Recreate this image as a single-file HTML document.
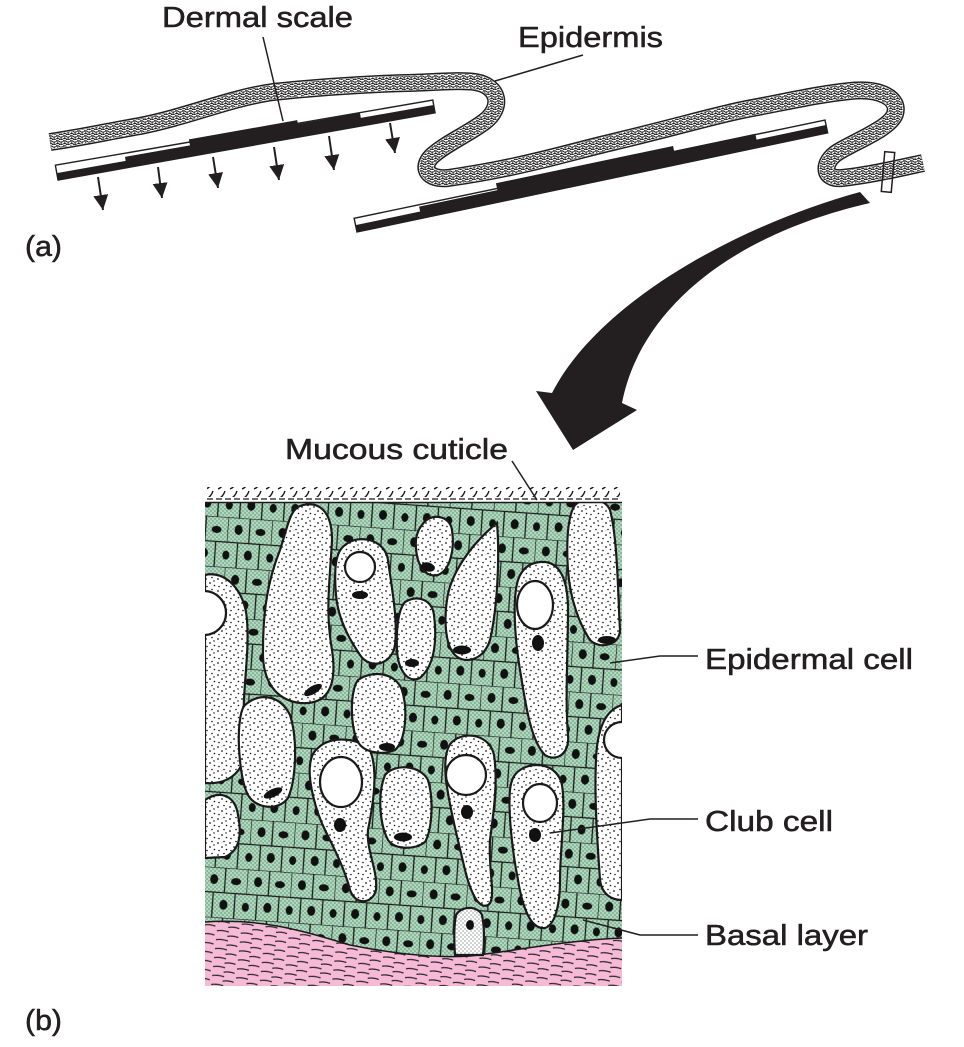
<!DOCTYPE html>
<html><head><meta charset="utf-8"><style>
html,body{margin:0;padding:0;background:#fff;}
svg{display:block;}
text{font-family:"Liberation Sans",Arial,sans-serif;fill:#231f20;stroke:#231f20;stroke-width:0.55;}
</style></head><body>
<svg width="964" height="1047" viewBox="0 0 964 1047" xmlns="http://www.w3.org/2000/svg">
<defs>
  <marker id="ah" markerUnits="userSpaceOnUse" markerWidth="16" markerHeight="16" refX="15" refY="7.5" orient="auto">
    <path d="M0,0 L15,7.5 L0,15 Z" fill="#231f20"/>
  </marker>
  <pattern id="ep" width="7" height="5" patternUnits="userSpaceOnUse">
    <path d="M0,1.5 Q2,0 3.5,1.5 T7,1.5 M0,4 Q1.7,3 3.5,4 T7,4 M2,1.5 L1.5,4 M5.5,1.5 L5,4 M3.5,4 L3.5,5 M0,0 L0.5,1.5" stroke="#1a1a1a" stroke-width="0.9" fill="none"/>
  </pattern>
  <pattern id="stip" width="4" height="4" patternUnits="userSpaceOnUse">
    <circle cx="1" cy="1" r="0.55" fill="#1d2a22"/>
    <circle cx="3" cy="3" r="0.55" fill="#1d2a22"/>
  </pattern>
  <pattern id="cells" width="44" height="50" patternUnits="userSpaceOnUse" patternTransform="rotate(4)">
    <path d="M0,0 H44 M0,25 H44 M0,0 V25 M22,0 V25 M11,25 V50 M33,25 V50" stroke="#1a1a1a" stroke-width="1.3" fill="none"/>
    <ellipse cx="11" cy="12" rx="4" ry="5" fill="#111"/>
    <ellipse cx="33" cy="13" rx="5" ry="3.5" fill="#111"/>
    <ellipse cx="22" cy="37" rx="4" ry="5" fill="#111"/>
    <ellipse cx="0" cy="38" rx="3.5" ry="4.5" fill="#111"/>
    <ellipse cx="44" cy="38" rx="3.5" ry="4.5" fill="#111"/>
  </pattern>
  <pattern id="wdots" width="12" height="12" patternUnits="userSpaceOnUse">
    <circle cx="2" cy="3" r="0.85" fill="#111"/>
    <circle cx="8" cy="1.5" r="0.8" fill="#111"/>
    <circle cx="6" cy="7" r="0.85" fill="#111"/>
    <circle cx="10.5" cy="9.5" r="0.8" fill="#111"/>
    <circle cx="3" cy="10.5" r="0.8" fill="#111"/>
    <circle cx="10" cy="5" r="0.7" fill="#111"/>
  </pattern>
  <pattern id="fib" width="24" height="9" patternUnits="userSpaceOnUse" patternTransform="rotate(6)">
    <path d="M1,3 Q6,1.5 13,3 M12,7.5 Q17,6 23,7.5" stroke="#222" stroke-width="1.3" fill="none"/>
  </pattern>
  <pattern id="hooks" width="12" height="10" patternUnits="userSpaceOnUse">
    <path d="M2,9 Q7,7 9,1" stroke="#1a1a1a" stroke-width="1.4" fill="none"/>
  </pattern>
  <clipPath id="blk"><rect x="205" y="502" width="417" height="484"/></clipPath>
</defs>

<!-- ===== (a) ===== -->
<g transform="translate(58,180) rotate(-10.1)">
  <polygon points="0,0 383,0 383,-13 0,-15" fill="#fff" stroke="#231f20" stroke-width="1.4"/>
  <polygon points="0,0 0,-7 70,-7 70,-11 136,-11 136,-17 246,-17 246,-13 309,-13 309,-8 383,-8 383,0" fill="#231f20"/>
</g>
<g transform="translate(357,232) rotate(-11.9)">
  <polygon points="0,0 481,0 481,-13 0,-14" fill="#fff" stroke="#231f20" stroke-width="1.4"/>
  <polygon points="0,0 0,-7 66,-7 66,-12 146,-12 146,-19 327,-19 327,-14 410,-14 410,-8 481,-8 481,0" fill="#231f20"/>
</g>

<g fill="none" stroke-linecap="butt" stroke-linejoin="round">
  <path d="M50 142 C90 136,110 131,140 126 C190 116,230 98,273 92 C330 86,370 84,407 83 C440 82,460 80,475 82 C500 86,503 108,484 122 C468 134,445 144,432 156 C420 168,428 180,448 178 C520 168,570 152,613 142 C680 126,720 114,747 109 C790 101,820 94,850 91 C880 88,900 98,895 114 C890 128,858 140,838 152 C822 162,822 180,842 178 C870 175,900 168,923 163" stroke="#231f20" stroke-width="18"/>
  <path d="M50 142 C90 136,110 131,140 126 C190 116,230 98,273 92 C330 86,370 84,407 83 C440 82,460 80,475 82 C500 86,503 108,484 122 C468 134,445 144,432 156 C420 168,428 180,448 178 C520 168,570 152,613 142 C680 126,720 114,747 109 C790 101,820 94,850 91 C880 88,900 98,895 114 C890 128,858 140,838 152 C822 162,822 180,842 178 C870 175,900 168,923 163" stroke="#fff" stroke-width="15"/>
  <path d="M50 142 C90 136,110 131,140 126 C190 116,230 98,273 92 C330 86,370 84,407 83 C440 82,460 80,475 82 C500 86,503 108,484 122 C468 134,445 144,432 156 C420 168,428 180,448 178 C520 168,570 152,613 142 C680 126,720 114,747 109 C790 101,820 94,850 91 C880 88,900 98,895 114 C890 128,858 140,838 152 C822 162,822 180,842 178 C870 175,900 168,923 163" stroke="url(#ep)" stroke-width="14"/>
</g>
<rect x="883" y="152" width="10" height="40" fill="none" stroke="#231f20" stroke-width="1.5" transform="rotate(5 888 172)"/>

<g stroke="#231f20" stroke-width="2" marker-end="url(#ah)">
  <line x1="98" y1="177" x2="103" y2="210"/>
  <line x1="158" y1="167" x2="162" y2="198"/>
  <line x1="213" y1="157" x2="218" y2="188"/>
  <line x1="274" y1="147" x2="279" y2="180"/>
  <line x1="329" y1="136" x2="334" y2="170"/>
  <line x1="390" y1="123" x2="395" y2="153"/>
</g>

<g stroke="#231f20" stroke-width="1.5" fill="none">
  <line x1="263" y1="37" x2="283" y2="121"/>
  <line x1="583" y1="55" x2="495" y2="81"/>
</g>

<text x="162" y="27" font-size="29" textLength="191" lengthAdjust="spacingAndGlyphs">Dermal scale</text>
<text x="518" y="47" font-size="29" textLength="145" lengthAdjust="spacingAndGlyphs">Epidermis</text>
<text x="25" y="256" font-size="29" textLength="37" lengthAdjust="spacingAndGlyphs">(a)</text>

<path d="M860 192 C740 225,600 300,552 393 L536 391 L573 450 L637 410 L622 403 C640 310,730 235,870 203 Z" fill="#231f20"/>

<!-- ===== (b) tissue ===== -->
<g clip-path="url(#blk)">
  <rect x="205" y="502" width="417" height="484" fill="#acdabd"/>
  <rect x="205" y="502" width="417" height="484" fill="url(#stip)"/>
  <rect x="205" y="502" width="417" height="484" fill="url(#cells)"/>
  <path d="M205 922 C260 918,300 930,350 945 C400 955,440 958,470 956 C520 950,570 940,622 938 L622 986 L205 986 Z" fill="#f6bad7"/>
  <path d="M205 922 C260 918,300 930,350 945 C400 955,440 958,470 956 C520 950,570 940,622 938 L622 986 L205 986 Z" fill="url(#fib)"/>
  <path d="M205 922 C260 918,300 930,350 945 C400 955,440 958,470 956 C520 950,570 940,622 938" fill="none" stroke="#1a1a1a" stroke-width="1.5"/>

  <g stroke="#1a1a1a" stroke-width="2.2">
    <path d="M205 575 C225 570,245 590,247 620 C250 660,240 700,245 740 C248 770,230 785,205 783 Z" fill="#fff"/>
    <path d="M300 506 C318 500,332 510,332 540 C330 580,325 610,332 650 C338 690,325 705,300 703 C275 700,262 680,263 650 C263 610,268 580,280 550 C288 525,290 510,300 506 Z" fill="#fff"/>
    <path d="M345 545 C360 533,385 540,388 560 C392 590,398 620,395 645 C392 665,370 670,360 655 C350 640,338 620,336 595 C334 570,335 552,345 545 Z" fill="#fff"/>
    <path d="M422 525 C430 512,450 515,452 530 C455 550,450 570,438 575 C425 578,417 565,416 548 C415 538,418 530,422 525 Z" fill="#fff"/>
    <path d="M405 602 C418 594,432 600,434 615 C437 640,435 665,420 678 C408 684,398 670,397 650 C396 630,398 610,405 602 Z" fill="#fff"/>
    <path d="M497 523 C500 560,497 610,490 640 C484 660,465 665,455 655 C445 645,444 620,447 600 C450 575,470 545,497 523 Z" fill="#fff"/>
    <path d="M540 562 C560 560,568 580,568 610 C568 650,565 700,568 735 C570 755,555 762,545 755 C530 740,525 700,520 670 C515 640,512 600,518 580 C522 568,530 563,540 562 Z" fill="#fff"/>
    <path d="M575 505 C585 495,605 498,610 510 C618 540,618 600,620 630 C620 645,600 650,590 640 C580 625,570 600,568 570 C566 540,568 515,575 505 Z" fill="#fff"/>
    <path d="M245 705 C260 692,280 695,290 715 C298 740,296 780,288 798 C278 812,255 808,248 795 C240 780,237 740,240 720 C241 712,243 707,245 705 Z" fill="#fff"/>
    <path d="M205 800 C220 790,235 795,238 815 C242 835,240 850,225 857 L205 858 Z" fill="#fff"/>
    <path d="M318 748 C330 735,360 738,370 750 C378 770,374 800,368 830 C366 850,378 870,376 890 C372 905,355 905,350 890 C345 870,335 850,325 830 C315 810,308 780,310 765 C311 757,313 752,318 748 Z" fill="#fff"/>
    <path d="M385 775 C395 763,420 765,428 780 C434 800,432 830,425 842 C415 850,395 850,388 840 C380 825,377 795,385 775 Z" fill="#fff"/>
    <path d="M358 680 C372 670,395 672,402 690 C408 710,406 740,395 750 C380 756,362 752,357 740 C350 725,350 690,358 680 Z" fill="#fff"/>
    <path d="M452 742 C465 730,490 735,494 755 C498 780,494 810,490 840 C488 870,497 900,488 905 C478 910,470 890,465 870 C458 840,450 810,446 780 C444 760,446 748,452 742 Z" fill="#fff"/>
    <path d="M520 770 C535 760,558 765,562 785 C566 810,560 850,560 880 C560 905,555 925,545 928 C530 930,522 905,518 880 C512 850,508 810,510 790 C511 780,514 774,520 770 Z" fill="#fff"/>
    <path d="M456 915 C462 905,478 906,482 915 C485 930,484 945,483 955 L455 955 C454 940,454 925,456 915 Z" fill="#fff"/>
    <path d="M622 705 C605 710,597 730,596 760 C594 800,598 850,600 880 C602 895,612 900,622 900 Z" fill="#fff"/>
  </g>
  <g fill="url(#wdots)">
    <path d="M205 575 C225 570,245 590,247 620 C250 660,240 700,245 740 C248 770,230 785,205 783 Z"/>
    <path d="M300 506 C318 500,332 510,332 540 C330 580,325 610,332 650 C338 690,325 705,300 703 C275 700,262 680,263 650 C263 610,268 580,280 550 C288 525,290 510,300 506 Z"/>
    <path d="M345 545 C360 533,385 540,388 560 C392 590,398 620,395 645 C392 665,370 670,360 655 C350 640,338 620,336 595 C334 570,335 552,345 545 Z"/>
    <path d="M422 525 C430 512,450 515,452 530 C455 550,450 570,438 575 C425 578,417 565,416 548 C415 538,418 530,422 525 Z"/>
    <path d="M405 602 C418 594,432 600,434 615 C437 640,435 665,420 678 C408 684,398 670,397 650 C396 630,398 610,405 602 Z"/>
    <path d="M497 523 C500 560,497 610,490 640 C484 660,465 665,455 655 C445 645,444 620,447 600 C450 575,470 545,497 523 Z"/>
    <path d="M540 562 C560 560,568 580,568 610 C568 650,565 700,568 735 C570 755,555 762,545 755 C530 740,525 700,520 670 C515 640,512 600,518 580 C522 568,530 563,540 562 Z"/>
    <path d="M575 505 C585 495,605 498,610 510 C618 540,618 600,620 630 C620 645,600 650,590 640 C580 625,570 600,568 570 C566 540,568 515,575 505 Z"/>
    <path d="M245 705 C260 692,280 695,290 715 C298 740,296 780,288 798 C278 812,255 808,248 795 C240 780,237 740,240 720 C241 712,243 707,245 705 Z"/>
    <path d="M205 800 C220 790,235 795,238 815 C242 835,240 850,225 857 L205 858 Z"/>
    <path d="M318 748 C330 735,360 738,370 750 C378 770,374 800,368 830 C366 850,378 870,376 890 C372 905,355 905,350 890 C345 870,335 850,325 830 C315 810,308 780,310 765 C311 757,313 752,318 748 Z"/>
    <path d="M385 775 C395 763,420 765,428 780 C434 800,432 830,425 842 C415 850,395 850,388 840 C380 825,377 795,385 775 Z"/>
    <path d="M358 680 C372 670,395 672,402 690 C408 710,406 740,395 750 C380 756,362 752,357 740 C350 725,350 690,358 680 Z"/>
    <path d="M452 742 C465 730,490 735,494 755 C498 780,494 810,490 840 C488 870,497 900,488 905 C478 910,470 890,465 870 C458 840,450 810,446 780 C444 760,446 748,452 742 Z"/>
    <path d="M520 770 C535 760,558 765,562 785 C566 810,560 850,560 880 C560 905,555 925,545 928 C530 930,522 905,518 880 C512 850,508 810,510 790 C511 780,514 774,520 770 Z"/>
    <path d="M456 915 C462 905,478 906,482 915 C485 930,484 945,483 955 L455 955 C454 940,454 925,456 915 Z" fill="url(#stip)"/>
    <path d="M622 705 C605 710,597 730,596 760 C594 800,598 850,600 880 C602 895,612 900,622 900 Z"/>
  </g>
  <g fill="#fff" stroke="#1a1a1a" stroke-width="2.2">
    <circle cx="204" cy="613" r="22"/>
    <circle cx="360" cy="567" r="15"/>
    <ellipse cx="535" cy="605" rx="18" ry="24"/>
    <ellipse cx="341" cy="782" rx="21" ry="25"/>
    <circle cx="466" cy="775" r="20"/>
    <ellipse cx="540" cy="803" rx="17" ry="19"/>
    <circle cx="622" cy="740" r="18"/>
  </g>
  <g fill="#111">
    <ellipse cx="313" cy="690" rx="10" ry="4" transform="rotate(-30 313 690)"/>
    <ellipse cx="360" cy="595" rx="8" ry="4"/>
    <ellipse cx="428" cy="567" rx="7" ry="4.5" transform="rotate(15 428 567)"/>
    <ellipse cx="412" cy="663" rx="7" ry="4"/>
    <ellipse cx="462" cy="650" rx="9" ry="4.5"/>
    <ellipse cx="538" cy="643" rx="6" ry="8"/>
    <ellipse cx="607" cy="640" rx="9" ry="4"/>
    <ellipse cx="273" cy="793" rx="10" ry="4" transform="rotate(-25 273 793)"/>
    <ellipse cx="340" cy="825" rx="6" ry="7"/>
    <ellipse cx="403" cy="837" rx="9" ry="4.5"/>
    <ellipse cx="387" cy="747" rx="8" ry="4"/>
    <ellipse cx="467" cy="812" rx="6" ry="7"/>
    <ellipse cx="535" cy="835" rx="6" ry="7"/>
    <ellipse cx="470" cy="925" rx="4" ry="5"/>
  </g>
</g>
<rect x="207" y="487" width="413" height="10" fill="url(#hooks)"/>
<line x1="207" y1="499" x2="621" y2="499" stroke="#1a1a1a" stroke-width="1.2" stroke-dasharray="6 3"/>
<line x1="205" y1="502.5" x2="622" y2="502.5" stroke="#1a1a1a" stroke-width="1.6"/>

<g stroke="#231f20" stroke-width="1.5" fill="none">
  <line x1="512" y1="461" x2="537" y2="500"/>
  <polyline points="698,656 660,656 610,663"/>
  <polyline points="698,819 650,819 550,833"/>
  <polyline points="698,935 640,935 583,920"/>
</g>

<text x="285" y="459" font-size="29" textLength="223" lengthAdjust="spacingAndGlyphs">Mucous cuticle</text>
<text x="705" y="669" font-size="29" textLength="208" lengthAdjust="spacingAndGlyphs">Epidermal cell</text>
<text x="705" y="831" font-size="29" textLength="128" lengthAdjust="spacingAndGlyphs">Club cell</text>
<text x="705" y="945" font-size="29" textLength="163" lengthAdjust="spacingAndGlyphs">Basal layer</text>
<text x="25" y="1030" font-size="29" textLength="37" lengthAdjust="spacingAndGlyphs">(b)</text>
</svg>
</body></html>
